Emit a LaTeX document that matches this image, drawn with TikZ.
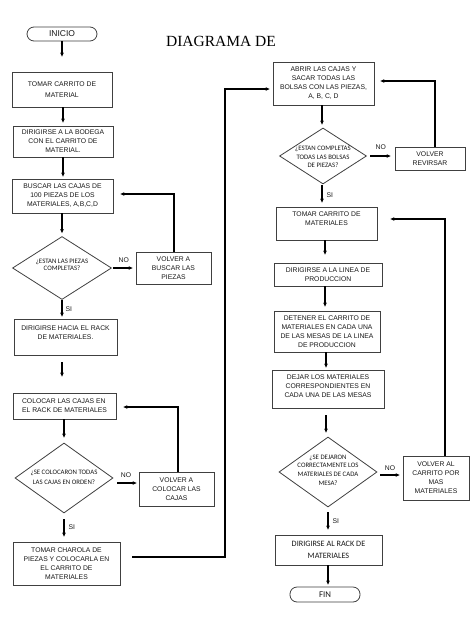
\documentclass[tikz,border=0pt]{standalone}
\usepackage{fontspec}
\setmainfont{Liberation Sans}
\newfontfamily\calfont{Carlito}
\newfontfamily\serfont{Liberation Serif}
\usetikzlibrary{shapes.geometric,arrows.meta}
\begin{document}
\begin{tikzpicture}[x=1pt,y=-1pt,
  box/.style={draw=black!75,line width=0.8pt,inner sep=0pt,align=center,text=black!90,
    font=\fontsize{6.8}{9}\selectfont},
  term/.style={box,rounded corners=7pt},
  dia/.style={draw=black!75,line width=0.8pt,diamond,inner sep=0pt},
  dtext/.style={align=center,text=black!90,inner sep=0pt,font=\calfont\fontsize{6.8}{8.7}\selectfont},
  arr/.style={line width=1.1pt,-{Stealth[length=4pt,width=3.6pt]}},
  lbl/.style={inner sep=1pt,text=black!90,font=\fontsize{6.8}{8}\selectfont}]
\useasboundingbox (0,0) rectangle (474,632);
\fill[white] (0,0) rectangle (474,632);

\node[font=\serfont\fontsize{15.5}{18}\selectfont,inner sep=0pt] (title) at (221,41.5) {DIAGRAMA DE};

% left column
\node[term,minimum width=70pt,minimum height=14pt,font=\fontsize{8.5}{10}\selectfont] (inicio) at (62,34) {INICIO};
\node[box,minimum width=100pt,minimum height=35pt] (tomar1) at (62,89.5) {TOMAR CARRITO DE\\[2pt]MATERIAL};
\node[box,minimum width=100pt,minimum height=31pt] (dirig1) at (63,141.5) {DIRIGIRSE A LA BODEGA\\CON EL CARRITO DE\\MATERIAL.};
\node[box,minimum width=101pt,minimum height=34pt] (buscar) at (62.5,196) {BUSCAR LAS CAJAS DE\\100 PIEZAS DE LOS\\MATERIALES, A,B,C,D};
\node[dia,minimum width=99pt,minimum height=63pt] (d1) at (62,268) {};
\node[dtext,font=\calfont\fontsize{6.8}{7.5}\selectfont] (d1t) at (62,265) {¿ESTAN LAS PIEZAS\\COMPLETAS?};
\node[box,minimum width=75pt,minimum height=32pt] (volver1) at (173.5,268) {VOLVER A\\BUSCAR LAS\\PIEZAS};
\node[box,minimum width=103pt,minimum height=36pt] (hacia) at (65.5,337) {DIRIGIRSE HACIA EL RACK\\DE MATERIALES.\\\mbox{}};
\node[box,minimum width=103pt,minimum height=26pt,align=left] (coloc) at (64.5,406) {COLOCAR LAS CAJAS EN\\EL RACK DE MATERIALES};
\node[dia,minimum width=98pt,minimum height=70pt] (d2) at (64,478) {};
\node[dtext] (d2t) at (64,477) {¿SE COLOCARON TODAS\\[1pt]LAS CAJAS EN ORDEN?};
\node[box,minimum width=75pt,minimum height=34pt] (volver2) at (176.5,489) {VOLVER A\\COLOCAR LAS\\CAJAS};
\node[box,minimum width=107pt,minimum height=43pt] (charola) at (66.5,563.5) {TOMAR CHAROLA DE\\PIEZAS Y COLOCARLA EN\\EL CARRITO DE\\MATERIALES};

% right column
\node[box,minimum width=101pt,minimum height=43pt] (abrir) at (323.5,83.5) {ABRIR LAS CAJAS Y\\SACAR TODAS LAS\\BOLSAS CON LAS PIEZAS,\\A, B, C, D};
\node[dia,minimum width=87pt,minimum height=56pt] (d3) at (323,156) {};
\node[dtext] (d3t) at (323,157) {¿ESTAN COMPLETAS\\TODAS LAS BOLSAS\\DE PIEZAS?};
\node[box,minimum width=70pt,minimum height=23pt] (revisar) at (430,158.5) {VOLVER\\REVIRSAR};
\node[box,minimum width=101pt,minimum height=33pt] (tomar2) at (326.5,223.5) {TOMAR CARRITO DE\\MATERIALES\\\mbox{}};
\node[box,minimum width=108pt,minimum height=23pt] (linea) at (328,274.5) {DIRIGIRSE A LA LINEA DE\\PRODUCCION};
\node[box,minimum width=106pt,minimum height=41pt] (detener) at (327,331.5) {DETENER EL CARRITO DE\\MATERIALES EN CADA UNA\\DE LAS MESAS DE LA LINEA\\DE PRODUCCION};
\node[box,minimum width=112pt,minimum height=38pt] (dejar) at (328,389) {DEJAR LOS MATERIALES\\CORRESPONDIENTES EN\\CADA UNA DE LAS MESAS\\[-3pt]\mbox{}};
\node[dia,minimum width=98pt,minimum height=70pt] (d4) at (328,472) {};
\node[dtext] (d4t) at (328,470) {¿SE DEJARON\\CORRECTAMENTE LOS\\MATERIALES DE CADA\\MESA?};
\node[box,minimum width=66pt,minimum height=44pt] (volver3) at (436,478) {VOLVER AL\\CARRITO POR\\MAS\\MATERIALES};
\node[box,minimum width=107pt,minimum height=30pt,font=\calfont\fontsize{8.2}{12}\selectfont] (rack) at (328.5,550) {DIRIGIRSE AL RACK DE\\MATERIALES};
\node[term,minimum width=70pt,minimum height=15pt,font=\calfont\fontsize{8.8}{10}\selectfont] (fin) at (325,594.5) {FIN};

% left column connectors
\draw[arr,shorten >=15pt] (inicio.south) -- (inicio.south |- tomar1.north);
\draw[arr,shorten >=3pt] ([xshift=1pt]tomar1.south) -- ([xshift=1pt]tomar1.south |- dirig1.north);
\draw[arr,shorten >=2pt] (dirig1.south) -- (dirig1.south |- buscar.north);
\draw[arr,shorten >=3pt] ([xshift=-0.5pt]buscar.south) -- (d1.north);
\draw[arr,shorten <=1.5pt,shorten >=3pt] (d1.east) -- node[lbl,above=4pt] {NO} (volver1.west);
\draw[arr,shorten >=7pt] ([xshift=0.5pt]volver1.north) |- ([yshift=2pt]buscar.east);
\draw[arr,shorten >=2pt] (d1.south) -- node[lbl,right=2pt] {SI} (d1.south |- hacia.north);
\draw[arr,shorten <=7pt,shorten >=16pt] ([xshift=-3.5pt]hacia.south) -- ([xshift=-3.5pt]hacia.south |- coloc.north);
\draw[arr,shorten >=5pt] ([xshift=-0.5pt]coloc.south) -- (d2.north);
\coordinate (n2) at ([yshift=-5pt]d2.east);
\draw[arr,shorten <=4pt,shorten >=2pt] (n2) -- node[lbl,above=4pt] {NO} (n2 -| volver2.west);
\draw[arr,shorten >=7pt] ([xshift=1.5pt]volver2.north) |- ([yshift=-1pt]coloc.east);
\draw[arr,shorten <=6pt,shorten >=5pt] (d2.south) -- node[lbl,right=3pt] {SI} (d2.south |- charola.north);
\coordinate (j1) at (225,89);
\draw[arr,shorten >=3pt] ([xshift=12pt,yshift=6.5pt]charola.east) -| (j1) -- (j1 -| abrir.west);

% right column connectors
\draw[arr,shorten >=3pt] ([xshift=-1.5pt]abrir.south) -- ([xshift=-1.5pt]abrir.south |- d3.north);
\draw[arr,shorten <=3.5pt,shorten >=4pt] (d3.east) -- node[lbl,above=5pt] {NO} (d3.east -| revisar.west);
\coordinate (j2) at (435,81);
\draw[arr,shorten >=6pt] ([xshift=5pt]revisar.north) -- (j2) -- (j2 -| abrir.east);
\draw[arr,shorten <=1pt,shorten >=4pt] ([xshift=-1pt]d3.south) -- node[lbl,right=3pt] {SI} ([xshift=-1pt]d3.south |- tomar2.north);
\draw[arr,shorten >=8pt] ([xshift=-1.5pt]tomar2.south) -- ([xshift=-1.5pt]tomar2.south |- linea.north);
\draw[arr,shorten >=4pt] ([xshift=-3pt]linea.south) -- ([xshift=-3pt]linea.south |- detener.north);
\draw[arr,shorten >=2pt] ([xshift=-1pt]detener.south) -- ([xshift=-1pt]detener.south |- dejar.north);
\draw[arr,shorten <=7pt,shorten >=4pt] ([xshift=-2pt]dejar.south) -- ([xshift=-2pt]dejar.south |- d4.north);
\coordinate (n4) at ([yshift=-3pt]d4.east);
\draw[arr,shorten <=3pt,shorten >=3pt] (n4) -- node[lbl,above=3pt] {NO} (n4 -| volver3.west);
\draw[arr,shorten >=13pt] ([xshift=9pt]volver3.north) |- ([yshift=4.5pt]tomar2.east);
\draw[arr,shorten <=5pt,shorten >=5pt] (d4.south) -- node[lbl,right=3pt] {SI} (d4.south |- rack.north);
\draw[arr,shorten >=2pt] ([xshift=-0.5pt]rack.south) -- ([xshift=-0.5pt]rack.south |- fin.north);
\end{tikzpicture}
\end{document}
